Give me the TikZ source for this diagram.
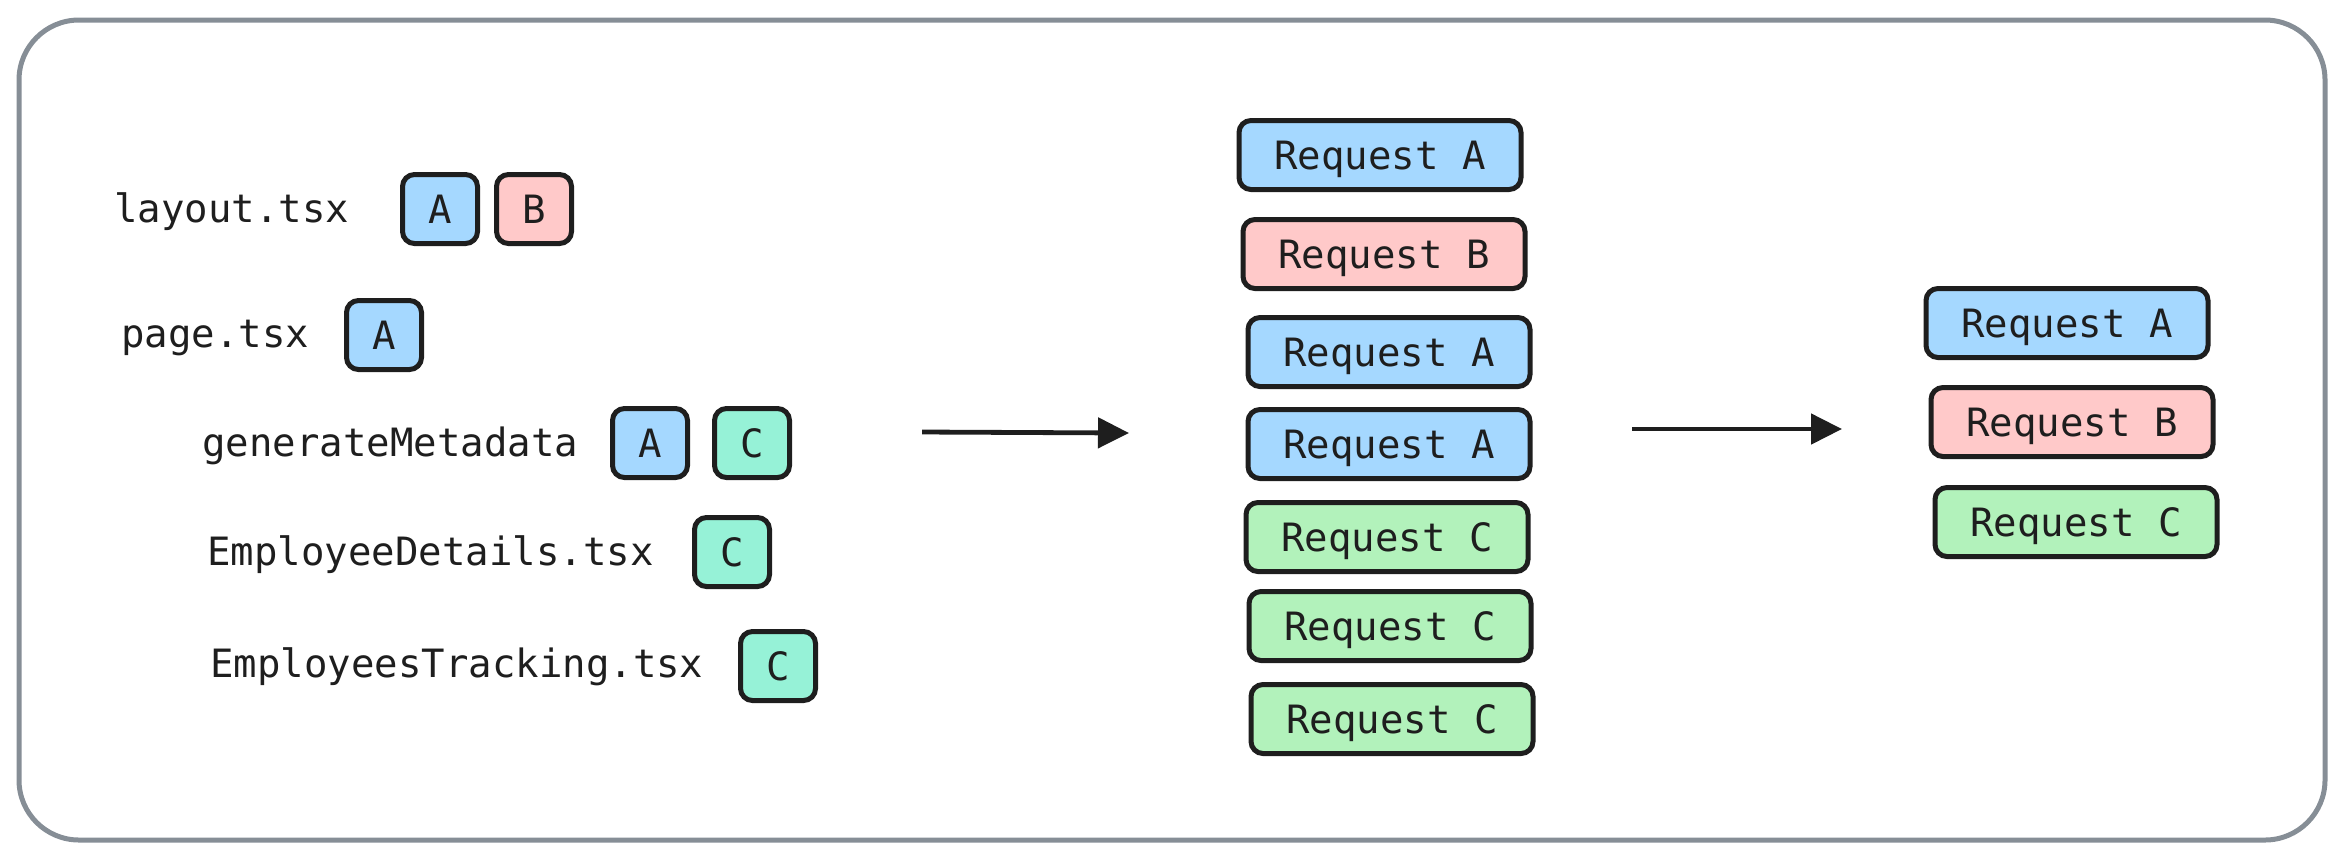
\documentclass[tikz,border=0pt]{standalone}
\usepackage{fontspec}
\setmonofont{DejaVu Sans Mono}
\usetikzlibrary{arrows.meta}
\definecolor{ink}{HTML}{1E1E1E}
\definecolor{frame}{HTML}{868E96}
\definecolor{fblue}{HTML}{A5D8FF}
\definecolor{fred}{HTML}{FFC9C9}
\definecolor{fgreen}{HTML}{B2F2BB}
\definecolor{fteal}{HTML}{96F2D7}
\tikzset{
  txt/.style={font=\ttfamily\fontsize{19.5}{23}\selectfont, text=ink},
  box/.style={txt, draw=ink, line width=2.5pt, rounded corners=6pt, inner sep=0pt,
    text height=14.2pt, text depth=0pt, minimum height=34.5pt},
  rq/.style={box, minimum width=141pt},
  sq/.style={box, minimum width=37.5pt},
  lbl/.style={txt, inner sep=0pt, anchor=base west},
  conn/.style={draw=ink, line width=2.4pt, -{Triangle[length=15.5pt,width=15pt]}},
}
\begin{document}
\begin{tikzpicture}[x=0.5pt,y=-0.5pt]
\useasboundingbox (0,0) rectangle (2344,859);
\draw[frame, line width=2.5pt, rounded corners=30pt] (19,20) rectangle (2325,840);

% left column
\node[lbl] (l1) at (114,222) {layout.tsx};
\node[sq, fill=fblue] (l1a) at (440,209) {A};
\node[sq, fill=fred] (l1b) at (534,209) {B};

\node[lbl] (l2) at (121,347) {page.tsx};
\node[sq, fill=fblue] (l2a) at (384,335) {A};

\node[lbl] (l3) at (202,456) {generateMetadata};
\node[sq, fill=fblue] (l3a) at (650,443) {A};
\node[sq, fill=fteal] (l3c) at (752,443) {C};

\node[lbl] (l4) at (207,565) {EmployeeDetails.tsx};
\node[sq, fill=fteal] (l4c) at (732,552) {C};

\node[lbl] (l5) at (210,677) {EmployeesTracking.tsx};
\node[sq, fill=fteal] (l5c) at (778,666) {C};

% middle column
\node[rq, fill=fblue] (m1) at (1380,155) {Request A};
\node[rq, fill=fred] (m2) at (1384,254) {Request B};
\node[rq, fill=fblue] (m3) at (1389,352) {Request A};
\node[rq, fill=fblue] (m4) at (1389,444) {Request A};
\node[rq, fill=fgreen] (m5) at (1387,537) {Request C};
\node[rq, fill=fgreen] (m6) at (1390,626) {Request C};
\node[rq, fill=fgreen] (m7) at (1392,719) {Request C};

% right column
\node[rq, fill=fblue] (r1) at (2067,323) {Request A};
\node[rq, fill=fred] (r2) at (2072,422) {Request B};
\node[rq, fill=fgreen] (r3) at (2076,522) {Request C};

% arrows
\coordinate (a1s) at (922,432);
\coordinate (a1e) at (1129,433);
\coordinate (a2s) at (1632,429);
\coordinate (a2e) at (1842,429);
\draw[conn] (a1s) -- (a1e);
\draw[conn] (a2s) -- (a2e);
\end{tikzpicture}
\end{document}
